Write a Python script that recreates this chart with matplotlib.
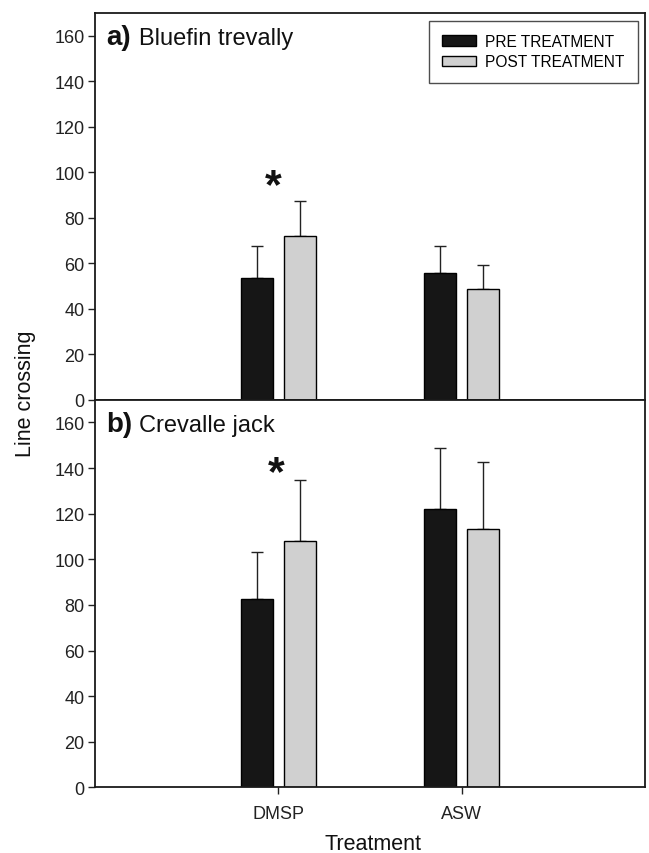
import matplotlib
matplotlib.use("Agg")
import matplotlib.pyplot as plt
import numpy as np

plt.rcParams['font.family'] = ['Liberation Sans', 'DejaVu Sans']

categories = ["DMSP", "ASW"]
series_names = ["PRE TREATMENT", "POST TREATMENT"]
colors = ["#161616", "#d0d0d0"]

# panel a) Bluefin trevally
a_pre = [53.4, 55.7]
a_pre_err = [14.3, 11.9]
a_post = [72.1, 48.7]
a_post_err = [15.4, 10.6]

# panel b) Crevalle jack
b_pre = [82.7, 121.9]
b_pre_err = [20.5, 26.7]
b_post = [107.9, 113.4]
b_post_err = [26.8, 29.2]

yticks = [0, 20, 40, 60, 80, 100, 120, 140, 160]

fig = plt.figure(figsize=(6.49, 8.54), dpi=100)
ax1 = fig.add_axes([0.1464, 0.5308, 0.8475, 0.4528])
ax2 = fig.add_axes([0.1464, 0.0769, 0.8475, 0.4539])

x = np.array([1, 2])
w = 0.175
off = 0.117

def draw(ax, pre, pre_err, post, post_err, letter, title, star_x, star_y):
    ax.bar(x - off, pre, w, color=colors[0], edgecolor='black', linewidth=1.0,
           label=series_names[0], zorder=2)
    ax.bar(x + off, post, w, color=colors[1], edgecolor='black', linewidth=1.0,
           label=series_names[1], zorder=2)
    ax.errorbar(x - off, pre, yerr=[np.zeros(2), pre_err], fmt='none',
                ecolor='#222222', elinewidth=1.0, capsize=4.2, capthick=1.0, zorder=1)
    ax.errorbar(x + off, post, yerr=[np.zeros(2), post_err], fmt='none',
                ecolor='#222222', elinewidth=1.0, capsize=4.2, capthick=1.0, zorder=1)
    ax.set_xlim(0, 3)
    ax.set_ylim(0, 170)
    ax.set_yticks(yticks)
    ax.set_xticks(x)
    ax.tick_params(axis='both', direction='out', length=5, width=1.0,
                   labelsize=13, color='#222222', labelcolor='#222222')
    ax.tick_params(axis='y', pad=2.5)
    for s in ax.spines.values():
        s.set_linewidth(1.3)
        s.set_color('#1a1a1a')
    ax.text(0.02, 0.92, letter, transform=ax.transAxes, fontsize=20,
            fontweight='bold', va='baseline', ha='left', color='#111111')
    ax.text(0.08, 0.92, title, transform=ax.transAxes, fontsize=17,
            va='baseline', ha='left', color='#111111')
    ax.text(star_x, star_y, "*", fontsize=31, fontweight='bold',
            ha='center', va='center', color='#111111')

draw(ax1, a_pre, a_pre_err, a_post, a_post_err, "a)", "Bluefin trevally", 0.97, 94)
draw(ax2, b_pre, b_pre_err, b_post, b_post_err, "b)", "Crevalle jack", 0.99, 138)

ax1.set_xticklabels([])
ax2.set_xticklabels(categories)
ax2.tick_params(axis='x', labelsize=13, pad=8)

leg = ax1.legend(loc='upper right', bbox_to_anchor=(0.987, 0.980), fontsize=11.2,
                 frameon=True, fancybox=False, handlelength=2.2, handleheight=0.7,
                 borderpad=0.85, labelspacing=0.35, handletextpad=0.6,
                 borderaxespad=0.0)
leg.get_frame().set_edgecolor('#222222')
leg.get_frame().set_linewidth(1.0)

fig.text(26/649, 1 - 394/854, "Line crossing", rotation=90, fontsize=15.5,
         ha='center', va='center', color='#111111')
fig.text(373/649, 1 - 845/854, "Treatment", fontsize=15.5,
         ha='center', va='center', color='#111111')

fig.savefig("out.png", dpi=100)
